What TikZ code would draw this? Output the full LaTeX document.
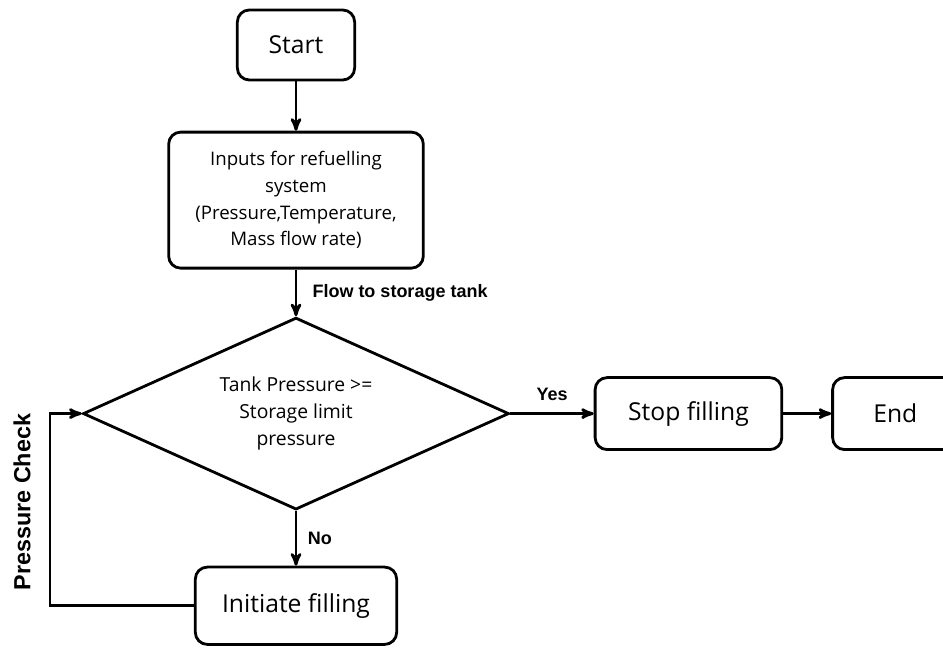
\documentclass[tikz,border=0pt]{standalone}
\usepackage{fontspec}
\setmainfont{Open Sans}
\newfontfamily\labelfont{Liberation Sans}
\usetikzlibrary{arrows,shapes.geometric,positioning}

\begin{document}
\begin{tikzpicture}[->,>=stealth',x=0.75pt,y=-0.75pt,line width=2.1pt,semithick]
	\tikzstyle{block}=[draw=black,line width=2.1pt,rounded corners=9pt,align=center,inner sep=2pt,font=\fontsize{18.5}{22}\selectfont]
	\tikzstyle{decision}=[diamond,draw=black,line width=2.1pt,aspect=2.2,align=center,inner sep=0pt,font=\fontsize{14.5}{20}\selectfont]
	\tikzstyle{tag}=[font=\labelfont\bfseries\fontsize{13.5}{16}\selectfont]
	\tikzstyle{flow}=[line width=2.1pt]
	\useasboundingbox (0,0) rectangle (943,648);
	\node[block,minimum width=88pt,minimum height=52.5pt] (start) at (296,45) {Start};
	\node[block,minimum width=191pt,minimum height=102pt,font=\fontsize{14}{20}\selectfont,below=37pt of start] (inputs) {Inputs for refuelling\\system\\(Pressure,Temperature,\\Mass flow rate)};
	\node[decision,minimum width=319.5pt,minimum height=144pt,below=35pt of inputs] (check) {Tank Pressure >=\\Storage limit\\pressure};
	\node[block,minimum width=140pt,minimum height=54pt,right=62.5pt of check] (stop) {Stop filling};
	\node[block,minimum width=94pt,minimum height=54pt,right=36pt of stop] (end) {End};
	\node[block,minimum width=151pt,minimum height=58pt,below=41pt of check] (init) {Initiate filling};
	\node[tag,rotate=90,font=\labelfont\bfseries\fontsize{17.5}{20}\selectfont] (pcheck) at (22,502) {Pressure Check};
	\coordinate (turn) at (50,0);
	\path[flow] (start)  edge                                      (inputs);
	\path[flow] (inputs) edge node[tag,right=8pt]   {Flow to storage tank} (check);
	\path[flow] (check)  edge node[tag,above=5pt]   {Yes}          (stop);
	\path[flow] (stop)   edge                                      (end);
	\path[flow] (check)  edge node[tag,right=4.5pt] {No}           (init);
	\draw[flow] (init.west) -- (init.west -| turn) |- (check.west);
\end{tikzpicture}
\end{document}
